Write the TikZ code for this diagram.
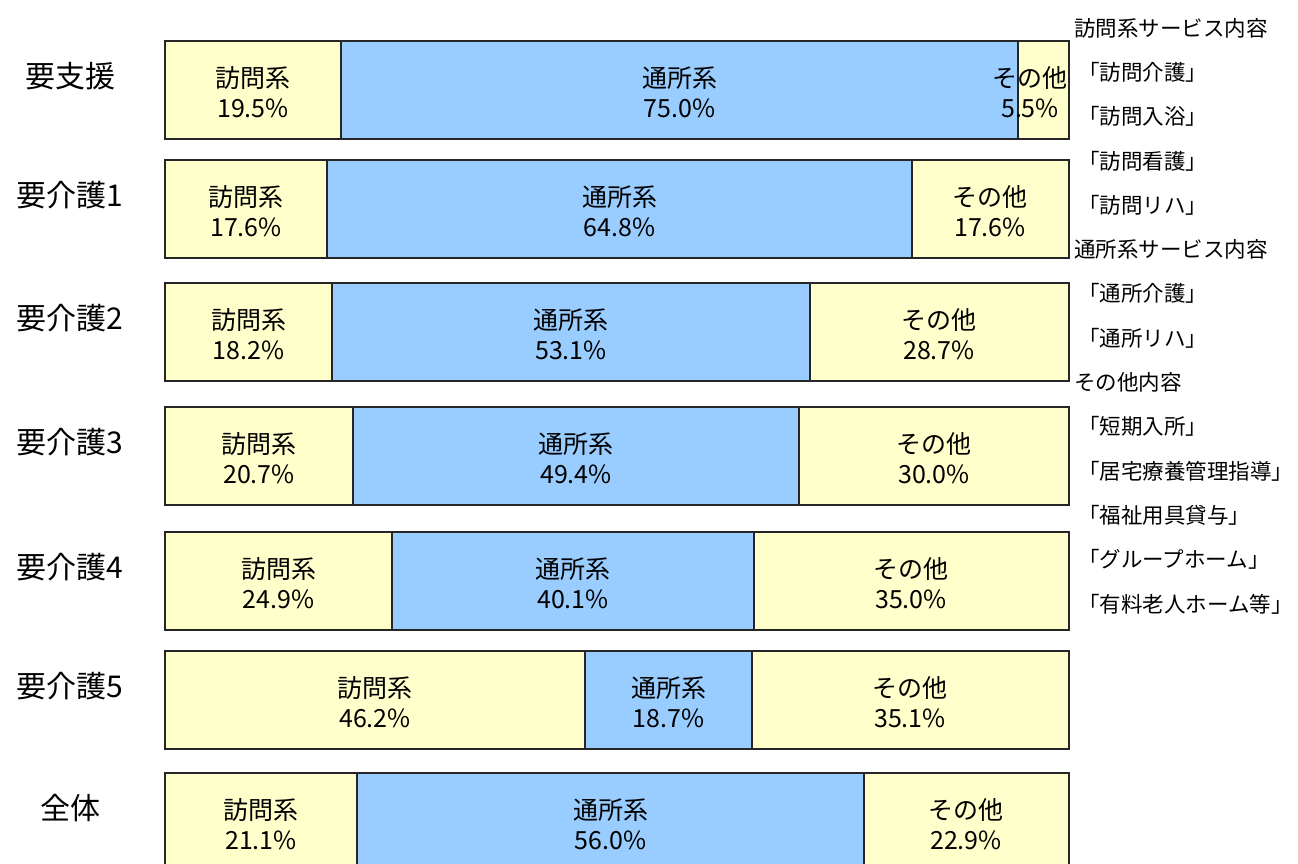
\documentclass[tikz,border=0pt]{standalone}
\usepackage{fontspec}
\setmainfont{Noto Sans CJK JP}
\usetikzlibrary{positioning}
\definecolor{homeyellow}{HTML}{FFFFCC}
\definecolor{dayblue}{HTML}{99CCFF}

\begin{document}
\begin{tikzpicture}[x=1pt,y=-1pt,
 seg/.style={draw=black!85, line width=1.5pt},
 part/.style={align=center, font=\fontsize{25}{30}\selectfont, inner sep=0pt},
 rowlab/.style={font=\fontsize{30}{36}\selectfont, inner sep=0pt},
 note/.style={anchor=west, font=\fontsize{21.5}{26}\selectfont, inner sep=0pt}]
  \useasboundingbox (0,0) rectangle (1298,863);
  \clip (0,0) rectangle (1298,863);

  % one bar per row: top, two splits, x of the third label
  \foreach \n/\t/\a/\b/\oc/\lab/\pa/\pb/\pc in {
    1/41/341/1018/1030/要支援/19.5/75.0/5.5,
    2/160/327/912/990/要介護1/17.6/64.8/17.6,
    3/283/332/810/939/要介護2/18.2/53.1/28.7,
    4/407/353/799/934/要介護3/20.7/49.4/30.0,
    5/532/392/754/911/要介護4/24.9/40.1/35.0,
    6/651/585/752/910/要介護5/46.2/18.7/35.1,
    7/773/357/864/966/全体/21.1/56.0/22.9} {
   \draw[seg, fill=homeyellow] (165,\t) rectangle (\a,\t+98);
   \draw[seg, fill=dayblue] (\a,\t) rectangle (\b,\t+98);
   \draw[seg, fill=homeyellow] (\b,\t) rectangle (1069,\t+98);
   \node[rowlab] (lab\n) at (70,\t+35) {\lab};
   \node[part] (visit\n) at ({(165+\a)/2},\t+51) {訪問系\\\pa\%};
   \node[part] (day\n) at ({(\a+\b)/2},\t+51) {通所系\\\pb\%};
   \node[part] (other\n) at (\oc,\t+51) {その他\\\pc\%};
  }

  % service list on the right
  \foreach \i/\x/\txt in {0/1074/訪問系サービス内容, 1/1078/「訪問介護」,
    2/1078/「訪問入浴」, 3/1078/「訪問看護」, 4/1078/「訪問リハ」,
    5/1074/通所系サービス内容, 6/1078/「通所介護」, 7/1078/「通所リハ」,
    8/1074/その他内容, 9/1078/「短期入所」, 10/1078/「居宅療養管理指導」,
    11/1078/「福祉用具貸与」, 12/1078/「グループホーム」,
    13/1078/「有料老人ホーム等」} {
   \node[note] (svc\i) at (\x,28+44.3*\i) {\txt};
  }
\end{tikzpicture}
\end{document}
